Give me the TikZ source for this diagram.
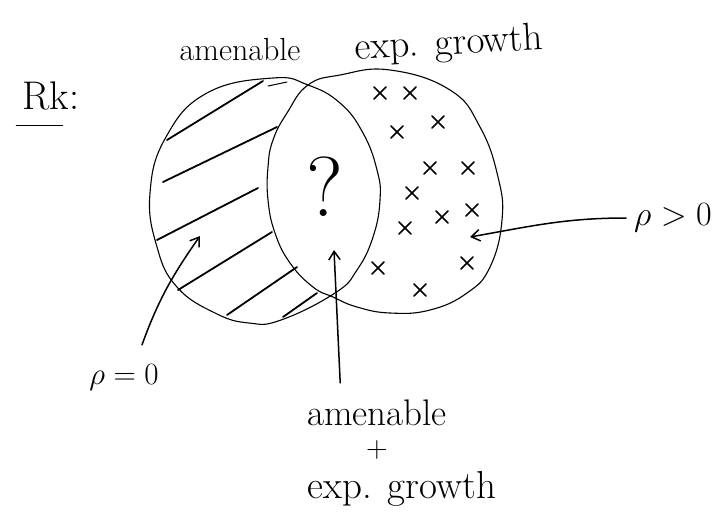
\documentclass[tikz,border=0pt]{standalone}
\usepackage{fix-cm}
\usepackage{amsmath}
\usepackage{tikz}
\usetikzlibrary{arrows.meta,positioning}

\begin{document}
\begin{tikzpicture}[
    x=1pt,y=-1pt,
    >={Straight Barb[length=3mm,width=4mm]},
    rim/.style={draw=black,line width=1.1pt},
    hatch/.style={draw=black,line width=1.8pt,line cap=round},
    cross/.style={draw=black,line width=1.5pt,line cap=round},
    pointer/.style={->,draw=black,line width=1.5pt,line cap=round},
    hand/.style={inner sep=0pt,font=\fontsize{30}{30}\selectfont}
  ]
    \useasboundingbox (0,0) rectangle (722,517);

    \node[hand,font=\fontsize{40}{40}\selectfont] (rk) at (51,96) {Rk:};
    \draw[line width=1.6pt,line cap=round]
      ([xshift=-6pt,yshift=-15pt]rk.south west) -- ([xshift=-17pt,yshift=-15pt]rk.south east);

    \node[hand,font=\fontsize{32}{32}\selectfont] (amentop) at (240,50) {amenable};
    \node[hand,font=\fontsize{39}{39}\selectfont,rotate=3] (exptop) at (449,45) {exp. growth};

    \draw[rim] plot[smooth cycle,tension=0.75] coordinates {(273,78) (308,85) (340,103) (363,133)
      (377,170) (380,200) (373,237) (357,270) (335,293) (281,320) (249,323) (215,313)
      (177,287) (157,247) (150,193) (166,137) (207,93)};
    \draw[rim] plot[smooth cycle,tension=0.75] coordinates {(308,85) (340,75) (390,70) (450,90)
      (480,127) (498,177) (502,220) (490,267) (467,293) (430,310) (390,313) (357,307)
      (333,297) (313,287) (290,263) (275,233) (268,200) (268,167) (273,140) (287,113)};

    \foreach \ax/\ay/\bx/\by in {167/140/263/81, 163/182/277/127, 157/240/258/188,
      178/290/272/232, 227/315/297/267, 283/317/317/293}
      \draw[hatch] (\ax,\ay) -- (\bx,\by);
    \draw[hatch,line width=1pt] (268,86) -- (287,82);

    \foreach \cx/\cy in {380/93, 410/93, 438/122, 397/132, 430/168, 468/168, 412/193,
      472/210, 442/217, 405/228, 467/263, 378/268, 420/290}
      \draw[cross] (\cx-6,\cy-6) -- (\cx+6,\cy+6) (\cx-6,\cy+6) -- (\cx+6,\cy-6);

    \node[hand,font=\fontsize{85}{85}\selectfont] (quest) at (325,187) {?};

    \node[hand,font=\fontsize{34}{34}\selectfont] (rpos) at (673,218) {$\rho>0$};
    \node[hand,font=\fontsize{31}{31}\selectfont] (rzero) at (124,378) {$\rho=0$};
    \node[hand,font=\fontsize{37}{37}\selectfont] (amen) at (377,413) {amenable};
    \node[hand,font=\fontsize{30}{30}\selectfont,below=14pt of amen] (plus) {+};
    \node[hand,font=\fontsize{39}{39}\selectfont,below=12pt of plus,xshift=25pt] (growth) {exp. growth};

    \coordinate (ptip) at (470,237);
    \coordinate (ztip) at (200,236);
    \coordinate (mtip) at (334,250);

    \draw[pointer] ([xshift=-8pt]rpos.west) to[out=180,in=10] (ptip);
    \draw[pointer] ([xshift=18pt,yshift=20pt]rzero.north) to[out=70,in=235] (ztip);
    \draw[pointer,shorten <=17pt] ([xshift=-36pt]amen.north) -- (mtip);
\end{tikzpicture}
\end{document}
